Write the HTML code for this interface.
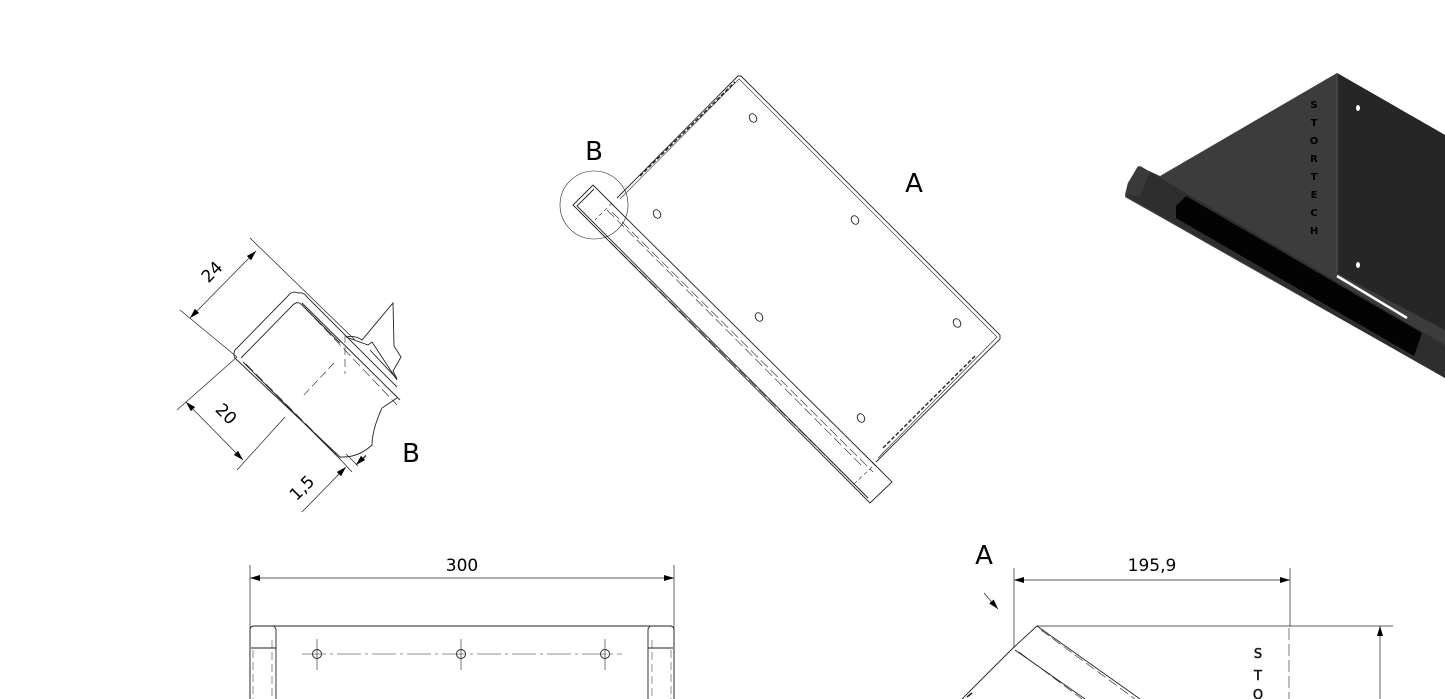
<!DOCTYPE html>
<html><head><meta charset="utf-8"><style>
html,body{margin:0;padding:0;background:#fff;}
svg{display:block;}
text{font-family:"DejaVu Sans","Liberation Sans",sans-serif;fill:#000;}
</style></head><body>
<svg width="1445" height="699" viewBox="0 0 1445 699" xmlns="http://www.w3.org/2000/svg">
<defs>
<marker id="ar" markerWidth="10" markerHeight="6" refX="10" refY="3" orient="auto" markerUnits="userSpaceOnUse"><path d="M0,0 L10,3 L0,6 z" fill="#000"/></marker>
<marker id="al" markerWidth="10" markerHeight="6" refX="0" refY="3" orient="auto" markerUnits="userSpaceOnUse"><path d="M10,0 L0,3 L10,6 z" fill="#000"/></marker>
</defs>
<g fill="none" stroke="#222" stroke-width="0.9">
<!-- Main view plate -->
<path d="M617,198 L738,76 L741,76 L1000,335 L1000,339 L876,462"/>
<path d="M620,199 L739,79 L997,337 L878,458" stroke-width="0.6"/>
<path d="M640,176 L735,82" stroke-dasharray="4,2" stroke-width="1.4"/>
<path d="M975,356 L882,449" stroke-dasharray="4,2" stroke-width="1.4"/>
<!-- tube -->
<path d="M593,185 L573,205 L870,503 L892,482 L874,464 L872,462"/>
<path d="M593,185 L615,207 L876,466"/>
<path d="M594,189 L577,206 L868,498"/>
<path d="M580,212 L866,496" stroke-dasharray="10,4" stroke-width="0.6"/>
<path d="M612,212 L873,472" stroke-dasharray="10,4" stroke-width="0.6"/>
<path d="M607,210 L863,467" stroke-dasharray="10,4" stroke-width="0.6"/>
<path d="M612,203 L595,220 M872,467 L853,485" stroke-dasharray="4,3" stroke-width="0.6"/>
<!-- holes -->
<ellipse cx="753" cy="118" rx="3.5" ry="4.5" transform="rotate(-30 753 118)"/>
<ellipse cx="657" cy="214" rx="3.5" ry="4.5" transform="rotate(-30 657 214)"/>
<ellipse cx="855" cy="220" rx="3.5" ry="4.5" transform="rotate(-30 855 220)"/>
<ellipse cx="759" cy="317" rx="3.5" ry="4.5" transform="rotate(-30 759 317)"/>
<ellipse cx="957" cy="323" rx="3.5" ry="4.5" transform="rotate(-30 957 323)"/>
<ellipse cx="861" cy="418" rx="3.5" ry="4.5" transform="rotate(-30 861 418)"/>
<circle cx="594" cy="205" r="34" stroke-width="0.6"/>

<!-- Detail B -->
<path d="M298,293 Q292,290 287,297 L235,350 Q232,356 237,360 L340,457"/>
<path d="M298,293 Q304,292 307,297 L397,387"/>
<path d="M241,358 L292,306 Q297,300 302,305 L340,343 M243,362 L340,459 M302,303 L400,400"/>
<path d="M246,364 L336,454 M305,308 L397,405" stroke-dasharray="10,4" stroke-width="0.6"/>
<path d="M346,337 Q355,335 362,340 L393,303 L394,346 L401,357 L393,371 L397,379 L370,350" />
<path d="M346,337 L368,345 L372,342 L397,380"/>
<path d="M397,398 L382,408 Q372,430 372,445 Q358,458 340,457"/>
<path d="M345,335 L345,374" stroke-dasharray="8,4" stroke-width="0.6"/>
<path d="M334,363 L302,397" stroke-dasharray="8,4" stroke-width="0.6"/>
<!-- dims -->
<g stroke-width="0.7">
<path d="M250,238 L355,340"/>
<path d="M180,310 L237,357"/>
<path d="M256,251 L190,318" marker-start="url(#al)" marker-end="url(#ar)"/>
<path d="M237,357 L177,410"/>
<path d="M285,417 L237,470"/>
<path d="M186,402 L243,460" marker-start="url(#al)" marker-end="url(#ar)"/>
<path d="M340,459 L352,472 M346,454 L358,466"/>
<path d="M302,512 L343,470 M360,462 L366,456"/>
<path d="M337,476 L346,467" marker-end="url(#ar)"/>
<path d="M366,455 L356,465" marker-end="url(#ar)"/>
</g>

<!-- Bottom left view -->
<g stroke-width="0.7">
<path d="M250,565 L250,699 M674,565 L674,699"/>
<path d="M250,578 L674,578" marker-start="url(#al)" marker-end="url(#ar)"/>
</g>
<path d="M253,626 L671,626"/>
<path d="M250,630 Q250,626 254,626 L274,626 L276,629 L276,699 M250,630 L250,699 M251,648 L276,648"/>
<path d="M674,630 Q674,626 670,626 L650,626 L648,629 L648,699 M674,630 L674,699 M648,648 L673,648"/>
<path d="M253,650 L253,699 M272,640 L272,699 M652,640 L652,699 M671,650 L671,699" stroke-dasharray="8,4" stroke-width="0.5"/>
<path d="M302,654 L622,654" stroke-dasharray="24,4,3,4" stroke-width="0.6"/>
<path d="M317,639 L317,670 M461,639 L461,670 M605,639 L605,670" stroke-width="0.6"/>
<circle cx="317" cy="654" r="4.5"/><circle cx="461" cy="654" r="4.5"/><circle cx="605" cy="654" r="4.5"/>

<!-- Bottom right view -->
<g stroke-width="0.7">
<path d="M1014,568 L1014,648 M1290,568 L1290,626"/>
<path d="M1014,580 L1290,580" marker-start="url(#al)" marker-end="url(#ar)"/>
<path d="M1037,626 L1393,626"/>
<path d="M1380,699 L1380,626" marker-end="url(#ar)"/>
<path d="M984,593 L998,609" marker-end="url(#ar)"/>
</g>
<path d="M1013,648 L1037,626 L1140,699 M1013,648 L962,699 M1015,650 L1085,699"/>
<path d="M1041,630 L1135,699 M1019,652 L1082,699" stroke-dasharray="10,4" stroke-width="0.6"/>
<path d="M1289,628 L1289,699" stroke-dasharray="12,4" stroke-width="0.6"/>
<path d="M967,697 L972,693" stroke-width="1.5"/>
</g>

<text x="594" y="160" font-size="26" text-anchor="middle">B</text>
<text x="914" y="192" font-size="26" text-anchor="middle">A</text>
<text x="411" y="462" font-size="26" text-anchor="middle">B</text>
<text x="984" y="564" font-size="26" text-anchor="middle">A</text>
<text font-size="17" text-anchor="middle" transform="translate(216,276) rotate(-45)">24</text>
<text font-size="17" text-anchor="middle" transform="translate(222,418) rotate(45)">20</text>
<text font-size="17" text-anchor="middle" transform="translate(306,492) rotate(-45)">1,5</text>
<text x="462" y="571" font-size="17" text-anchor="middle">300</text>
<text x="1152" y="571" font-size="17" text-anchor="middle">195,9</text>
<text x="1258" y="658" font-size="13" text-anchor="middle" fill="none" stroke="#333" stroke-width="0.6">S</text>
<text x="1258" y="680" font-size="13" text-anchor="middle" fill="none" stroke="#333" stroke-width="0.6">T</text>
<text x="1258" y="699" font-size="13" text-anchor="middle" fill="none" stroke="#333" stroke-width="0.6">O</text>

<!-- 3D render -->
<polygon points="1337,73 1445,135 1445,378 1125,197 1128,183 1138,166 1160,176" fill="#3c3c3c"/>
<polygon points="1337,73 1445,135 1445,330 1337,273" fill="#262626"/>
<polygon points="1140,166 1445,345 1445,378 1125,195 1128,183" fill="#2e2e2e"/>
<polygon points="1128,183 1140,166 1150,172 1140,196 1125,195" fill="#3a3a3a"/>
<polygon points="1186,196 1422,333 1414,356 1176,218 1176,206" fill="#030303"/>
<path d="M1337,276 L1407,318" stroke="#fff" stroke-width="2.5"/>
<path d="M1337,73 L1337,272" stroke="#555" stroke-width="1"/>
<ellipse cx="1358" cy="108" rx="2" ry="3" fill="#fff"/>
<ellipse cx="1358" cy="265" rx="2" ry="3" fill="#fff"/>
<g font-size="10" fill="#777" text-anchor="middle" font-weight="bold">
<text x="1314" y="108">S</text><text x="1314" y="126">T</text><text x="1314" y="144">O</text><text x="1314" y="162">R</text><text x="1314" y="180">T</text><text x="1314" y="198">E</text><text x="1314" y="216">C</text><text x="1314" y="234">H</text>
</g>
</svg>
</body></html>
